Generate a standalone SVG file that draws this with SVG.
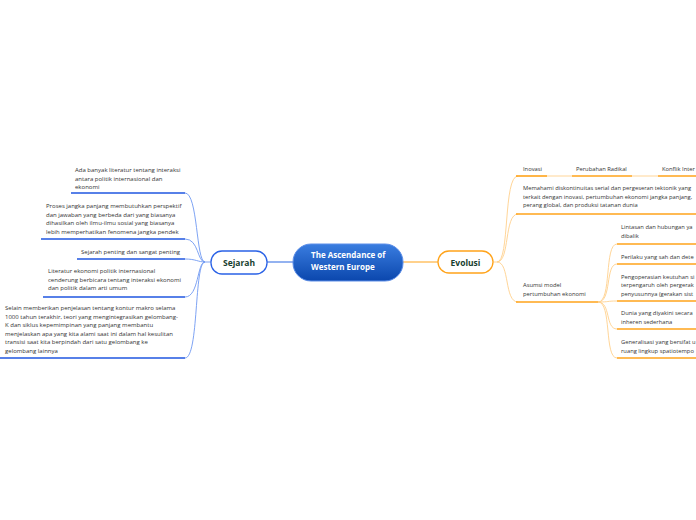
<svg xmlns="http://www.w3.org/2000/svg" width="696" height="520" viewBox="0 0 696 520">
<defs>
<linearGradient id="cg" x1="0" y1="0" x2="0" y2="1">
<stop offset="0" stop-color="#3a7de0"/>
<stop offset="1" stop-color="#0b47ad"/>
</linearGradient>
<style>
.t{font-family:"Open Sans","Noto Sans","Liberation Sans",sans-serif;font-size:6px;fill:#333;}
.r{font-size:5.8px;}
.nt{font-family:"Open Sans","Noto Sans","Liberation Sans",sans-serif;font-size:8.5px;font-weight:bold;fill:#17402f;}
.ct{font-family:"Open Sans","Noto Sans","Liberation Sans",sans-serif;font-size:8px;font-weight:bold;fill:#fff;}
.bu{stroke:#1f56e0;stroke-width:1.6;fill:none;}
.bc{stroke:#6f98f2;stroke-width:0.9;fill:none;}
.ou{stroke:#ffa31a;stroke-width:1.6;fill:none;}
.oc{stroke:#ffd08c;stroke-width:0.9;fill:none;}
</style>
</defs>
<rect width="696" height="520" fill="#fff"/>
<g id="connectors">
<line x1="267" y1="262" x2="293" y2="262" stroke="#4b7fe6" stroke-width="1.2"/>
<line x1="403" y1="262" x2="438" y2="262" stroke="#ffa31a" stroke-width="1.2"/>
<line class="bc" x1="205" y1="262" x2="211" y2="262"/>
<path class="bc" d="M205,262 C196,262 198,193 185,193"/>
<path class="bc" d="M205,262 C197,262 199,239 185,239"/>
<path class="bc" d="M205,262 C198,262 196,259 185,259"/>
<path class="bc" d="M205,262 C197,262 199,297 185,297"/>
<path class="bc" d="M205,262 C194,262 199,358 185,358"/>
<line class="oc" x1="493" y1="262" x2="497" y2="262"/>
<path class="oc" d="M497,262 C510,262 503,176 518,176"/>
<path class="oc" d="M497,262 C510,262 504,214 518,214"/>
<path class="oc" d="M497,262 C510,262 504,302 518,302"/>
<line class="oc" x1="547" y1="176" x2="572" y2="176"/>
<line class="oc" x1="632" y1="176" x2="658" y2="176"/>
<path class="oc" d="M598,302 C612,302 604,244 617,244"/>
<path class="oc" d="M598,302 C612,302 605,264 617,264"/>
<path class="oc" d="M598,302 C610,302 606,301 617,301"/>
<path class="oc" d="M598,302 C611,302 605,329 617,329"/>
<path class="oc" d="M598,302 C612,302 604,358 617,358"/>
</g>
<g id="central">
<rect x="293" y="244" width="110" height="37" rx="18" fill="url(#cg)" stroke="#5d8ee8" stroke-width="1"/>
<text class="ct" x="311" y="258">The Ascendance of</text>
<text class="ct" x="311" y="270">Western Europe</text>
</g>
<g id="sejarah">
<rect x="211" y="251" width="56" height="23" rx="11" fill="#fff" stroke="#2a62e6" stroke-width="1.3"/>
<text class="nt" x="239" y="265.5" text-anchor="middle">Sejarah</text>
</g>
<g id="evolusi">
<rect x="438" y="251" width="55" height="22" rx="11" fill="#fff" stroke="#ffa31a" stroke-width="1.3"/>
<text class="nt" x="465.5" y="265.5" text-anchor="middle">Evolusi</text>
</g>
<g id="s1">
<text class="t" x="75" y="172">Ada banyak literatur tentang interaksi</text>
<text class="t" x="75" y="180.5">antara politik internasional dan</text>
<text class="t" x="75" y="189">ekonomi</text>
<line class="bu" x1="71" y1="193" x2="185" y2="193"/>
</g>
<g id="s2">
<text class="t" x="46" y="208">Proses jangka panjang membutuhkan perspektif</text>
<text class="t" x="46" y="216.5">dan jawaban yang berbeda dari yang biasanya</text>
<text class="t" x="46" y="225">dihasilkan oleh ilmu-ilmu sosial yang biasanya</text>
<text class="t" x="46" y="233.5">lebih memperhatikan fenomena jangka pendek</text>
<line class="bu" x1="41" y1="239" x2="185" y2="239"/>
</g>
<g id="s3">
<text class="t" x="81" y="254">Sejarah penting dan sangat penting</text>
<line class="bu" x1="77" y1="259" x2="185" y2="259"/>
</g>
<g id="s4">
<text class="t" x="48" y="273">Literatur ekonomi politik internasional</text>
<text class="t" x="48" y="281.5">cenderung berbicara tentang interaksi ekonomi</text>
<text class="t" x="48" y="290">dan politik dalam arti umum</text>
<line class="bu" x1="43" y1="297" x2="185" y2="297"/>
</g>
<g id="s5">
<text class="t" x="5" y="310">Selain memberikan penjelasan tentang kontur makro selama</text>
<text class="t" x="5" y="318.5">1000 tahun terakhir, teori yang mengintegrasikan gelombang-</text>
<text class="t" x="5" y="327">K dan siklus kepemimpinan yang panjang membantu</text>
<text class="t" x="5" y="335.5">menjelaskan apa yang kita alami saat ini dalam hal kesulitan</text>
<text class="t" x="5" y="344">transisi saat kita berpindah dari satu gelombang ke</text>
<text class="t" x="5" y="352.5">gelombang lainnya</text>
<line class="bu" x1="0" y1="358" x2="185" y2="358"/>
</g>
<g id="e1">
<text class="t r" x="523" y="171">Inovasi</text>
<line class="ou" x1="516" y1="176" x2="547" y2="176"/>
</g>
<g id="e2">
<text class="t r" x="576" y="171">Perubahan Radikal</text>
<line class="ou" x1="572" y1="176" x2="632" y2="176"/>
</g>
<g id="e3">
<text class="t r" x="662" y="171">Konflik Inter</text>
<line class="ou" x1="658" y1="176" x2="700" y2="176"/>
</g>
<g id="e4">
<text class="t r" x="523" y="190">Memahami diskontinuitas serial dan pergeseran tektonik yang</text>
<text class="t r" x="523" y="198.5">terkait dengan inovasi, pertumbuhan ekonomi jangka panjang,</text>
<text class="t r" x="523" y="207">perang global, dan produksi tatanan dunia</text>
<line class="ou" x1="516" y1="214" x2="700" y2="214"/>
</g>
<g id="e5">
<text class="t r" x="523" y="287">Asumsi model</text>
<text class="t r" x="523" y="296">pertumbuhan ekonomi</text>
<line class="ou" x1="516" y1="302" x2="598" y2="302"/>
</g>
<g id="a1">
<text class="t r" x="621" y="229">Lintasan dan hubungan ya</text>
<text class="t r" x="621" y="237.5">dibalik</text>
<line class="ou" x1="617" y1="244" x2="700" y2="244"/>
</g>
<g id="a2">
<text class="t r" x="621" y="259">Perilaku yang sah dan dete</text>
<line class="ou" x1="617" y1="264" x2="700" y2="264"/>
</g>
<g id="a3">
<text class="t r" x="621" y="278.5">Pengoperasian keutuhan si</text>
<text class="t r" x="621" y="287">terpengaruh oleh pergerak</text>
<text class="t r" x="621" y="295.5">penyusunnya (gerakan sist</text>
<line class="ou" x1="617" y1="301" x2="700" y2="301"/>
</g>
<g id="a4">
<text class="t r" x="621" y="315">Dunia yang diyakini secara</text>
<text class="t r" x="621" y="323.5">inheren sederhana</text>
<line class="ou" x1="617" y1="329" x2="700" y2="329"/>
</g>
<g id="a5">
<text class="t r" x="621" y="344">Generalisasi yang bersifat u</text>
<text class="t r" x="621" y="352.5">ruang lingkup spatiotempo</text>
<line class="ou" x1="617" y1="358" x2="700" y2="358"/>
</g>
</svg>
